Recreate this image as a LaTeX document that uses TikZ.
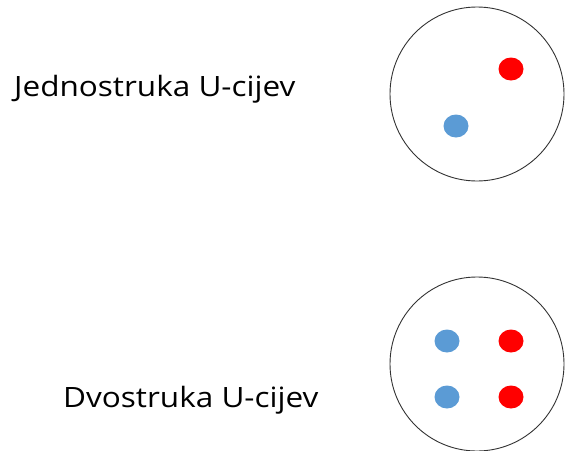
\documentclass[tikz,border=0pt]{standalone}
\usepackage{fontspec}
\setmainfont{Open Sans}
\newfontfamily\labelfont[FakeStretch=1.125]{Open Sans}
\definecolor{pipeblue}{RGB}{91,155,213}
\definecolor{pipered}{RGB}{255,0,0}
\tikzset{
  bore/.style={line width=0.9pt, black!80},
  label/.style={anchor=base west, inner sep=0pt, font=\labelfont\fontsize{28}{33}\selectfont},
}
\begin{document}
\begin{tikzpicture}[x=1pt,y=-1pt]
\useasboundingbox (0,0) rectangle (567,450);
% single U-tube
\draw [bore] (477,94) ellipse (87pt and 87pt);
\fill [pipered] (511,69) ellipse (12.5pt and 11.5pt);
\fill [pipeblue] (456,126) ellipse (12.5pt and 11.5pt);
\node [label] (single) at (14,96) {Jednostruka U-cijev};
% double U-tube
\draw [bore] (477,364) ellipse (87pt and 87pt);
\fill [pipeblue] (447,341) ellipse (12.5pt and 11.5pt);
\fill [pipered] (511,341) ellipse (12.5pt and 11.5pt);
\fill [pipeblue] (447,397) ellipse (12.5pt and 11.5pt);
\fill [pipered] (511,397) ellipse (12.5pt and 11.5pt);
\node [label] (double) at (63,407) {Dvostruka U-cijev};
\end{tikzpicture}
\end{document}
